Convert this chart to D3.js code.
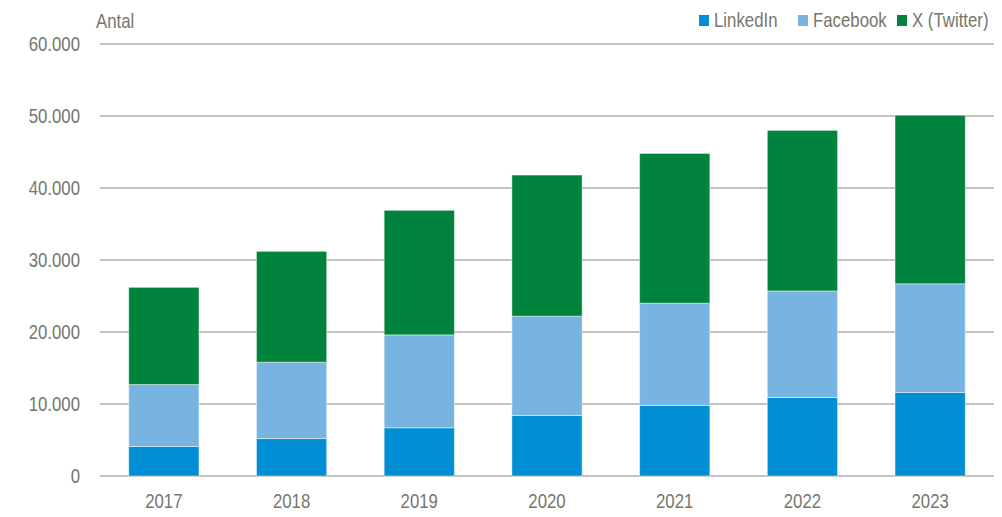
<!DOCTYPE html>
<html>
<head>
<meta charset="utf-8">
<script src="https://cdn.jsdelivr.net/npm/d3@7"></script>
<style>
  html, body { margin: 0; padding: 0; background: #fff; }
  svg text { font-family: "Liberation Sans", Arial, sans-serif; fill: #76766a; }
</style>
</head>
<body>
<svg id="chart" width="1002" height="517"></svg>
<script>
const years = ["2017", "2018", "2019", "2020", "2021", "2022", "2023"];
const seriesNames = ["LinkedIn", "Facebook", "X (Twitter)"];
const seriesColors = ["#008fd5", "#78b4e2", "#00843d"];
const linkedin = [4100, 5200, 6700, 8400, 9800, 10900, 11600];
const facebook = [8600, 10600, 12900, 13800, 14200, 14800, 15100];
const twitter  = [13500, 15400, 17300, 19600, 20800, 22300, 23400];
const yTicks = [0, 10000, 20000, 30000, 40000, 50000, 60000];
const yAxisTitle = "Antal";

const svg = d3.select("#chart");
const margin = { left: 100, right: 8, top: 44, bottom: 41 };
const W = 1002, H = 517;
const narrow = 0.84; // emulate narrow face

const x = d3.scaleBand().domain(years).range([margin.left, W - margin.right]).paddingInner(0.45).paddingOuter(0.225);
const y = d3.scaleLinear().domain([0, 60000]).range([H - margin.bottom, margin.top]);

const fmt = v => v === 0 ? "0" : d3.format(",")(v).replace(/,/g, ".");
const place = (px, py) => `translate(${px},${py}) scale(${narrow},1)`;

// gridlines
svg.append("g")
  .selectAll("line").data(yTicks).join("line")
  .attr("x1", margin.left).attr("x2", W - margin.right)
  .attr("y1", d => y(d)).attr("y2", d => y(d))
  .attr("stroke", "#b2b19f").attr("stroke-width", 1.3);

// y labels
svg.append("g")
  .selectAll("text").data(yTicks).join("text")
  .attr("transform", d => place(80, y(d))).attr("dy", "0.36em")
  .attr("text-anchor", "end").attr("font-size", 20)
  .text(fmt);

svg.append("text").attr("transform", place(96, 28)).attr("font-size", 20).text(yAxisTitle);

// stacked data
const rows = years.map((yr, i) => ({ year: yr, "LinkedIn": linkedin[i], "Facebook": facebook[i], "X (Twitter)": twitter[i] }));
const stacked = d3.stack().keys(seriesNames)(rows);

svg.append("g").selectAll("g").data(stacked).join("g")
  .attr("fill", (d, i) => seriesColors[i])
  .selectAll("rect").data(d => d).join("rect")
  .attr("x", d => x(d.data.year))
  .attr("width", x.bandwidth())
  .attr("y", d => y(d[1]))
  .attr("height", d => y(d[0]) - y(d[1]))
  .attr("stroke", "rgba(255,255,255,0.45)").attr("stroke-width", 1);

// x labels
svg.append("g").selectAll("text").data(years).join("text")
  .attr("transform", d => place(x(d) + x.bandwidth() / 2, 508))
  .attr("text-anchor", "middle").attr("font-size", 20)
  .text(d => d);

// legend
const legendX = [699, 798, 897];
const lg = svg.append("g").selectAll("g").data(seriesNames).join("g")
  .attr("transform", (d, i) => `translate(${legendX[i]},0)`);
lg.append("rect").attr("x", 0).attr("y", 15).attr("width", 10).attr("height", 11)
  .attr("fill", (d, i) => seriesColors[i]);
lg.append("text").attr("transform", place(15, 27)).attr("font-size", 20).text(d => d);
</script>
</body>
</html>
